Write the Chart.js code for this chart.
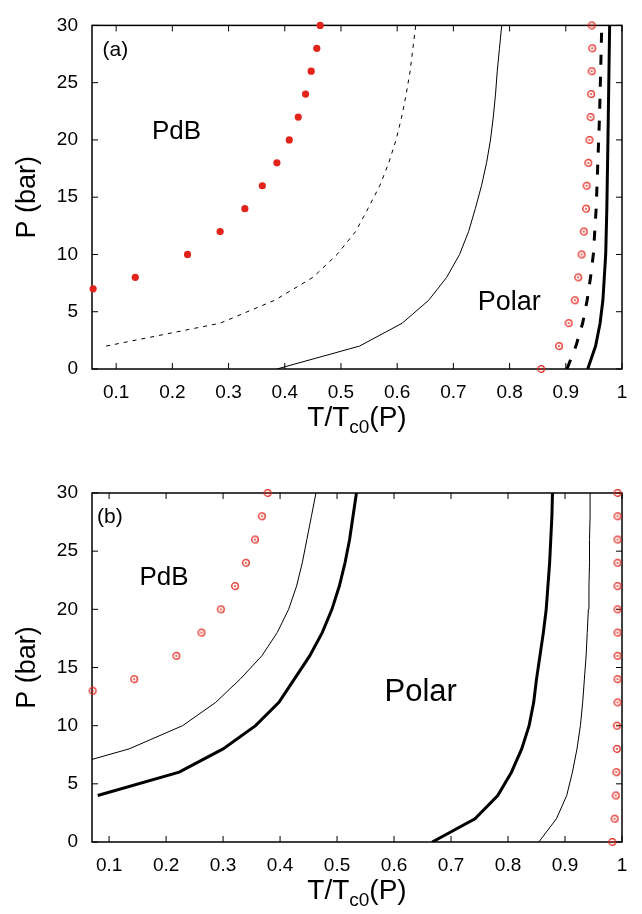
<!DOCTYPE html>
<html>
<head>
<meta charset="utf-8">
<script src="https://cdn.jsdelivr.net/npm/chart.js@4.4.1/dist/chart.umd.min.js"></script>
<style>
  body { margin: 0; background: #fff; }
  #wrap { position: relative; width: 642px; height: 914px; }
  canvas { position: absolute; left: 0; }
  #cA { top: 0; }
  #cB { top: 457px; }
</style>
</head>
<body>
<div id="wrap">
  <canvas id="cA" width="642" height="457"></canvas>
  <canvas id="cB" width="642" height="457"></canvas>
</div>
<script>
// tick labels
const tTicks = [0.1, 0.2, 0.3, 0.4, 0.5, 0.6, 0.7, 0.8, 0.9, 1];
const pTicks = [0, 5, 10, 15, 20, 25, 30];

// ---- panel (a) ----
const aPdbP = [7, 8, 10, 12, 14, 16, 18, 20, 22, 24, 26, 28, 30];
const aPdbT = [0.059, 0.134, 0.227, 0.285, 0.329, 0.360, 0.386, 0.408, 0.424, 0.437, 0.447, 0.457, 0.463];

const aCircP = [0, 2, 4, 6, 8, 10, 12, 14, 16, 18, 20, 22, 24, 26, 28, 30];
const aCircT = [0.856, 0.888, 0.905, 0.916, 0.922, 0.928, 0.932, 0.936, 0.937, 0.940, 0.942, 0.944, 0.945, 0.946, 0.947, 0.946];

const aDotP = [2, 4, 6, 8, 10, 12, 14, 16, 18, 20, 22, 24, 26, 28, 30];
const aDotT = [0.082, 0.285, 0.382, 0.450, 0.493, 0.526, 0.548, 0.569, 0.585, 0.598, 0.608, 0.616, 0.623, 0.628, 0.633];

const aThinP = [0, 2, 4, 6, 8, 10, 12, 14, 16, 18, 20, 22, 24, 26, 28, 30];
const aThinT = [0.386, 0.533, 0.609, 0.656, 0.688, 0.711, 0.727, 0.739, 0.750, 0.759, 0.766, 0.771, 0.775, 0.778, 0.782, 0.786];

const aDashP = [0, 1, 2, 4, 6, 8, 10, 14, 18, 22, 26, 30];
const aDashT = [0.902, 0.910, 0.918, 0.930, 0.938, 0.944, 0.949, 0.954, 0.957, 0.960, 0.962, 0.964];

const aThickP = [0, 1, 2, 4, 6, 10, 14, 20, 30];
const aThickT = [0.939, 0.946, 0.953, 0.961, 0.966, 0.971, 0.973, 0.975, 0.978];

// ---- panel (b) ----
const bPdbP = [13, 14, 16, 18, 20, 22, 24, 26, 28, 30];
const bPdbT = [0.071, 0.144, 0.218, 0.262, 0.296, 0.321, 0.340, 0.356, 0.368, 0.378];

const bCircP = [0, 2, 4, 6, 8, 10, 12, 14, 16, 18, 20, 22, 24, 26, 28, 30];
const bCircT = [0.983, 0.987, 0.989, 0.990, 0.991, 0.991, 0.992, 0.992, 0.992, 0.992, 0.992, 0.992, 0.992, 0.992, 0.992, 0.992];

const bThinLP = [7.1, 8, 10, 12, 14, 16, 18, 20, 22, 24, 26, 28, 30];
const bThinLT = [0.07, 0.135, 0.229, 0.287, 0.330, 0.368, 0.395, 0.415, 0.429, 0.439, 0.447, 0.455, 0.463];

const bThickLP = [4, 6, 8, 10, 12, 14, 16, 18, 20, 22, 24, 26, 28, 30];
const bThickLT = [0.08, 0.223, 0.300, 0.357, 0.398, 0.425, 0.452, 0.474, 0.491, 0.504, 0.514, 0.522, 0.528, 0.534];

const bThickRP = [0, 2, 4, 6, 8, 10, 12, 14, 16, 18, 20, 22, 24, 26, 28, 30];
const bThickRT = [0.667, 0.742, 0.782, 0.806, 0.824, 0.837, 0.845, 0.850, 0.856, 0.862, 0.867, 0.870, 0.873, 0.875, 0.877, 0.878];

const bThinRP = [0, 2, 4, 6, 8, 10, 12, 14, 16, 18, 20, 22, 24, 26, 28, 30];
const bThinRT = [0.854, 0.885, 0.903, 0.913, 0.921, 0.927, 0.931, 0.934, 0.937, 0.939, 0.941, 0.942, 0.943, 0.943, 0.944, 0.944];

const FONT = '"Liberation Sans", Arial, sans-serif';
const RED = '#e3241b';

function pts(T, P) {
  return T.map((t, i) => ({ x: t, y: P[i] }));
}

// open circle with a dot in the middle
function ring() {
  const c = document.createElement('canvas');
  c.width = c.height = 10;
  const g = c.getContext('2d');
  g.strokeStyle = RED;
  g.lineWidth = 1.3;
  g.beginPath();
  g.arc(5, 5, 3.3, 0, 2 * Math.PI);
  g.stroke();
  g.fillStyle = RED;
  g.beginPath();
  g.arc(5, 5, 0.9, 0, 2 * Math.PI);
  g.fill();
  return c;
}
const ringImg = ring();

function line(T, P, width, dash) {
  return {
    data: pts(T, P), showLine: true, borderColor: '#000', borderWidth: width,
    borderDash: dash || [], pointRadius: 0, tension: 0, fill: false
  };
}
function dots(T, P) {
  return {
    data: pts(T, P), showLine: false, pointStyle: 'circle', pointRadius: 3.6,
    backgroundColor: RED, borderWidth: 0, clip: false
  };
}
function rings(T, P) {
  return {
    data: pts(T, P), showLine: false, pointStyle: ringImg, pointRadius: 4, clip: false
  };
}

// box with inward ticks on all sides
const framePlugin = {
  id: 'frame',
  beforeDatasetsDraw(chart) {
    const { ctx, chartArea: a, scales: { x, y } } = chart;
    ctx.save();
    ctx.strokeStyle = '#000';
    ctx.lineWidth = 1;
    ctx.beginPath();
    x.ticks.forEach(t => {
      const px = x.getPixelForValue(t.value);
      ctx.moveTo(px, a.bottom); ctx.lineTo(px, a.bottom - 6);
      ctx.moveTo(px, a.top); ctx.lineTo(px, a.top + 6);
    });
    y.ticks.forEach(t => {
      const py = y.getPixelForValue(t.value);
      ctx.moveTo(a.left, py); ctx.lineTo(a.left + 6, py);
      ctx.moveTo(a.right, py); ctx.lineTo(a.right - 6, py);
    });
    ctx.stroke();
    ctx.lineWidth = 1.5;
    ctx.strokeRect(a.left, a.top, a.right - a.left, a.bottom - a.top);
    ctx.restore();
  }
};

// axis titles and region labels
const notesPlugin = {
  id: 'notes',
  afterDraw(chart, args, opts) {
    const { ctx, chartArea: a, scales: { x, y } } = chart;
    ctx.save();
    ctx.fillStyle = '#000';
    ctx.textBaseline = 'alphabetic';
    opts.items.forEach(n => {
      ctx.font = n.size + 'px ' + FONT;
      ctx.textAlign = n.align || 'center';
      ctx.fillText(n.text, x.getPixelForValue(n.t), y.getPixelForValue(n.p));
    });

    // y title
    ctx.save();
    ctx.font = '27px ' + FONT;
    ctx.textAlign = 'center';
    ctx.translate(35, (a.top + a.bottom) / 2);
    ctx.rotate(-Math.PI / 2);
    ctx.fillText('P (bar)', 0, 0);
    ctx.restore();

    // x title T/Tc0(P)
    const big = '28px ' + FONT, small = '19px ' + FONT;
    ctx.font = big;
    const w1 = ctx.measureText('T/T').width;
    const w3 = ctx.measureText('(P)').width;
    ctx.font = small;
    const w2 = ctx.measureText('c0').width;
    let sx = (a.left + a.right) / 2 - (w1 + w2 + w3) / 2;
    const by = a.bottom + 57;
    ctx.textAlign = 'left';
    ctx.font = big;
    ctx.fillText('T/T', sx, by);
    ctx.font = small;
    ctx.fillText('c0', sx + w1, by + 7);
    ctx.font = big;
    ctx.fillText('(P)', sx + w1 + w2, by);
    ctx.restore();
  }
};

function makeChart(id, datasets, xMin, padTop, xAxisH, items) {
  const tickFont = { family: FONT, size: 19 };
  return new Chart(document.getElementById(id), {
    type: 'scatter',
    data: { datasets },
    options: {
      responsive: false,
      animation: false,
      devicePixelRatio: 1,
      events: [],
      layout: { padding: { left: 0, right: 20, top: padTop, bottom: 0 } },
      plugins: {
        legend: { display: false },
        tooltip: { enabled: false },
        notes: { items }
      },
      scales: {
        x: {
          type: 'linear', min: xMin, max: 1,
          afterBuildTicks: s => { s.ticks = tTicks.map(v => ({ value: v })); },
          afterFit: s => { s.height = xAxisH; },
          grid: { display: false, drawTicks: false },
          border: { display: false },
          ticks: { font: tickFont, color: '#000', padding: 12, maxRotation: 0, autoSkip: false,
                   callback: v => String(v) }
        },
        y: {
          type: 'linear', min: 0, max: 30,
          afterBuildTicks: s => { s.ticks = pTicks.map(v => ({ value: v })); },
          afterFit: s => { s.width = 92; },
          grid: { display: false, drawTicks: false },
          border: { display: false },
          ticks: { font: tickFont, color: '#000', padding: 14 }
        }
      }
    },
    plugins: [framePlugin, notesPlugin]
  });
}

makeChart('cA', [
  line(aDotT, aDotP, 1, [4, 5]),
  line(aThinT, aThinP, 1),
  line(aDashT, aDashP, 3, [10, 12]),
  line(aThickT, aThickP, 3),
  dots(aPdbT, aPdbP),
  rings(aCircT, aCircP)
], 0.057, 20, 88, [
  { text: '(a)', t: 0.0756, p: 27.34, size: 21, align: 'left' },
  { text: 'PdB', t: 0.2073, p: 20.12, size: 26 },
  { text: 'Polar', t: 0.7993, p: 5.16, size: 27 }
]);

makeChart('cB', [
  line(bThinLT, bThinLP, 1),
  line(bThickLT, bThickLP, 3),
  line(bThickRT, bThickRP, 3),
  line(bThinRT, bThinRP, 1),
  rings(bPdbT, bPdbP),
  rings(bCircT, bCircP)
], 0.07, 36, 72, [
  { text: '(b)', t: 0.0789, p: 27.42, size: 21, align: 'left' },
  { text: 'PdB', t: 0.1965, p: 22.10, size: 26 },
  { text: 'Polar', t: 0.6468, p: 12.14, size: 31 }
]);
</script>
</body>
</html>
